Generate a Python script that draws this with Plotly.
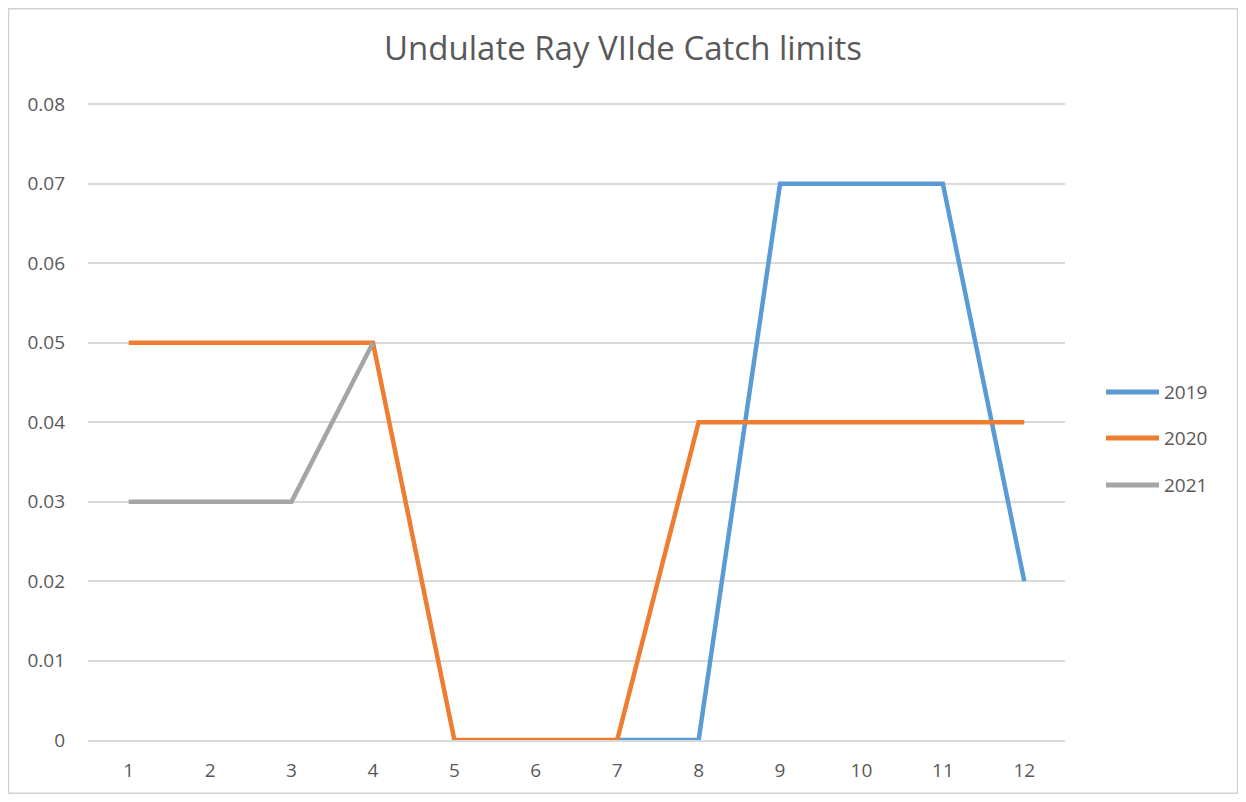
"""Undulate Ray VIIde catch limits, Excel-style line chart."""

import plotly.graph_objects as go

months = [str(m) for m in range(1, 13)]
limits_2019 = [None, None, None, None, None, None, 0, 0, 0.07, 0.07, 0.07, 0.02]
limits_2020 = [0.05, 0.05, 0.05, 0.05, 0, 0, 0, 0.04, 0.04, 0.04, 0.04, 0.04]
limits_2021 = [0.03, 0.03, 0.03, 0.05, None, None, None, None, None, None, None, None]
y_ticks = [0, 0.01, 0.02, 0.03, 0.04, 0.05, 0.06, 0.07, 0.08]
y_tick_labels = ["0", "0.01", "0.02", "0.03", "0.04", "0.05", "0.06", "0.07", "0.08"]

series = [
    ("2019", limits_2019, "#5B9BD5"),
    ("2020", limits_2020, "#ED7D31"),
    ("2021", limits_2021, "#A5A5A5"),
]

# page body adds an 8px offset, so work in reference pixels minus 8
OFF = 8
Y_TOP = 0.0803  # a touch above 0.08 so the top gridline is drawn
W, H = 1246 - 2 * OFF, 802 - 2 * OFF
L = 88 - OFF
T = round(104 - OFF - (Y_TOP - 0.08) / 0.08 * 636)
R = W - (1065 - OFF)
B = H - (740 - OFF)
plot_w = W - L - R
plot_h = H - T - B

fig = go.Figure()
for name, values, colour in series:
    fig.add_trace(
        go.Scatter(
            x=months,
            y=values,
            name=name,
            mode="lines",
            line={"color": colour, "width": 4.5},
            showlegend=False,
        )
    )


def px_x(px):
    return (px - OFF - L) / plot_w


def px_y(py):
    return (H - B - (py - OFF)) / plot_h


# hand-drawn legend, Excel style (long line swatch, text right after it)
legend_rows = [392, 438, 485]
shapes = []
annotations = []
for (name, _, colour), row_y in zip(series, legend_rows):
    shapes.append(
        {
            "type": "line",
            "xref": "paper",
            "yref": "paper",
            "x0": px_x(1106),
            "x1": px_x(1159),
            "y0": px_y(row_y),
            "y1": px_y(row_y),
            "line": {"color": colour, "width": 5},
        }
    )
    annotations.append(
        {
            "text": name,
            "xref": "paper",
            "yref": "paper",
            "x": px_x(1162),
            "y": px_y(row_y),
            "xanchor": "left",
            "yanchor": "middle",
            "showarrow": False,
            "font": {"size": 19, "color": "#595959"},
        }
    )

# thin outer frame like the Excel chart area border
shapes.append(
    {
        "type": "rect",
        "xref": "paper",
        "yref": "paper",
        "x0": -L / plot_w + 0.0005,
        "x1": (plot_w + R) / plot_w - 0.0005,
        "y0": -B / plot_h + 0.001,
        "y1": (plot_h + T) / plot_h - 0.001,
        "line": {"color": "#d0d0d0", "width": 1.5},
        "fillcolor": "rgba(0,0,0,0)",
        "layer": "below",
    }
)

fig.update_layout(
    width=W,
    height=H,
    margin={"l": L, "r": R, "t": T, "b": B},
    paper_bgcolor="white",
    plot_bgcolor="white",
    font={"family": "Open Sans, Liberation Sans, sans-serif", "color": "#595959", "size": 18},
    title={
        "text": "Undulate Ray VIIde Catch limits",
        "x": 0.5,
        "xref": "container",
        "xanchor": "center",
        "y": 1 - (48 - OFF) / H,
        "yanchor": "middle",
        "font": {"size": 33, "color": "#595959"},
    },
    xaxis={
        "type": "category",
        "range": [-0.5, 11.5],
        "showgrid": False,
        "showline": True,
        "linecolor": "#d9d9d9",
        "linewidth": 1.5,
        "ticks": "",
        "tickfont": {"size": 19},
        "ticklabelstandoff": 12,
    },
    yaxis={
        "range": [0, Y_TOP],
        "tickvals": y_ticks,
        "ticktext": y_tick_labels,
        "showgrid": True,
        "gridcolor": "#d9d9d9",
        "gridwidth": 1.5,
        "zeroline": False,
        "ticks": "",
        "tickfont": {"size": 19},
        "ticklabelstandoff": 22,
    },
    shapes=shapes,
    annotations=annotations,
)

fig.write_html("out.html")
